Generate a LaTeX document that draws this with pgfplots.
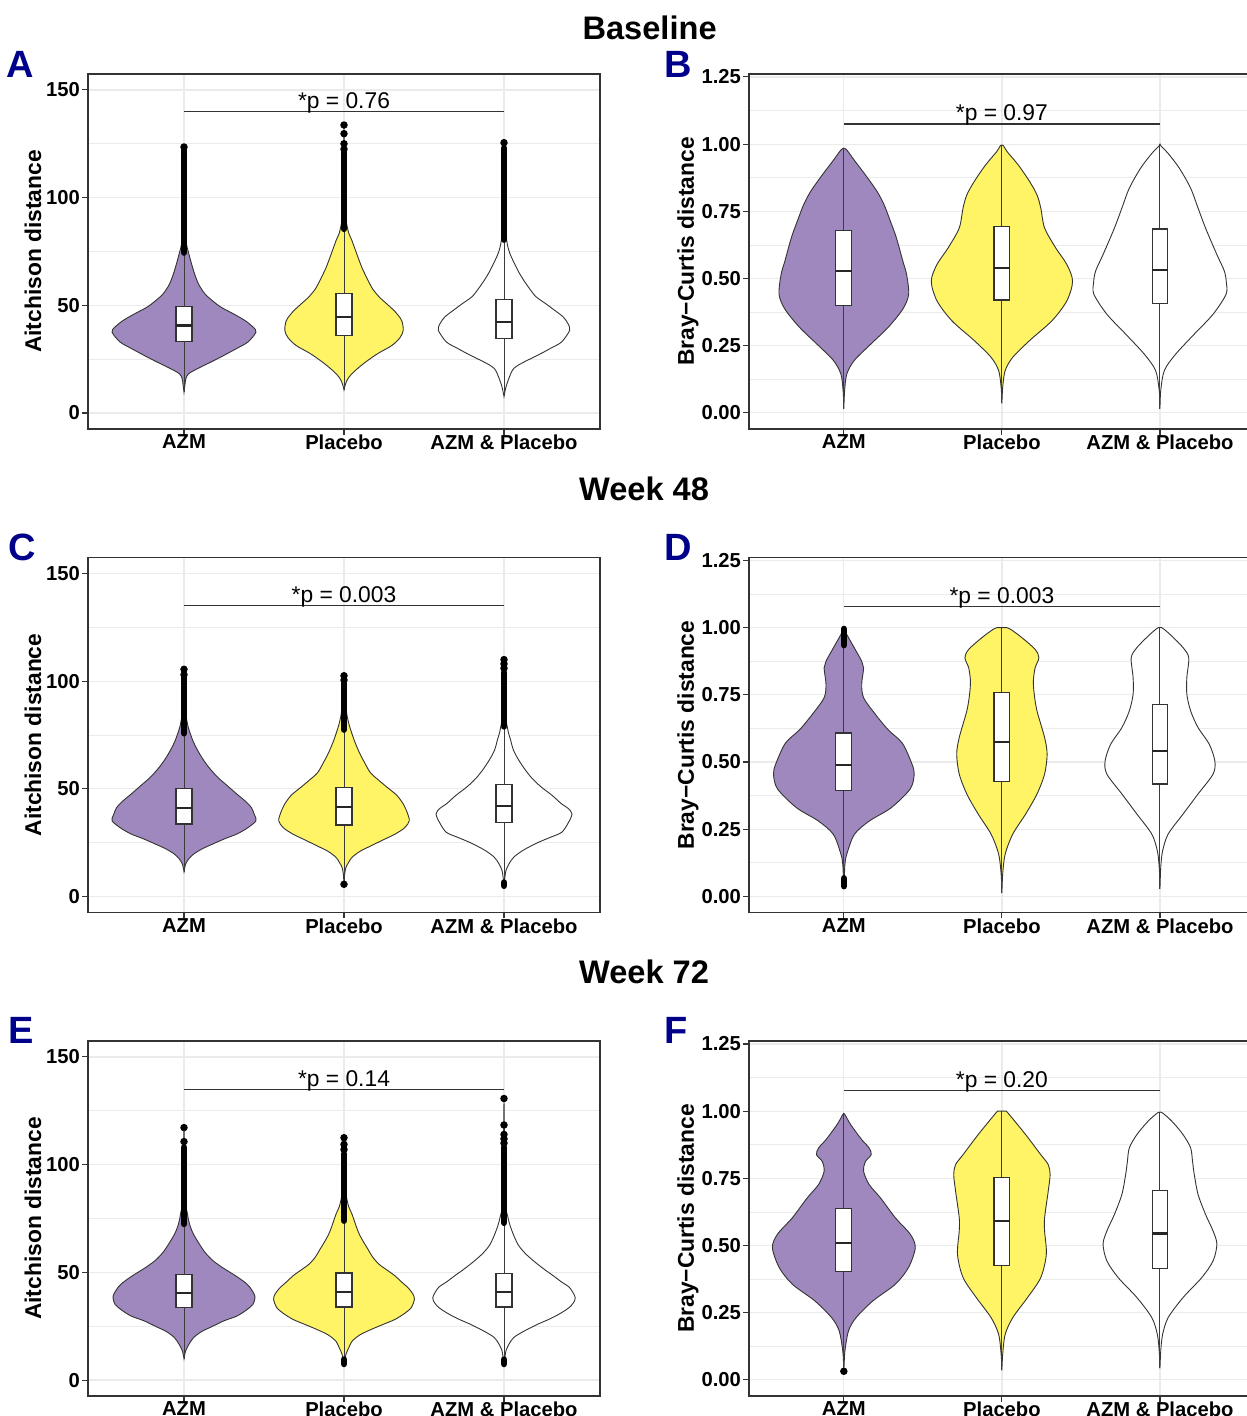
\documentclass[border=0pt]{standalone}
\usepackage{fontspec}
\setmainfont{Liberation Sans}
\usepackage{pgfplots}
\pgfplotsset{compat=1.18}
\usepackage{pgfplotstable}
\usepgfplotslibrary{fillbetween}

\definecolor{vpur}{RGB}{159,136,189}
\definecolor{vyel}{RGB}{255,243,102}
\definecolor{vlc}{RGB}{51,51,51}
\definecolor{gridc}{RGB}{235,235,235}
\definecolor{framec}{RGB}{51,51,51}
\definecolor{whc}{RGB}{60,60,60}
\definecolor{lblue}{RGB}{0,0,139}

% ---------------- Panel A (Baseline, Aitchison)
\pgfplotstableread{
y w
9.8 0
12 0.004
16 0.012
18.3 0.03
20.6 0.084
23 0.15
26 0.23
30 0.33
33 0.40
37.6 0.45
40 0.43
43 0.38
46 0.31
49.2 0.23
52 0.18
55.4 0.13
60 0.09
66 0.06
74 0.03
80 0.012
90 0.005
123.5 0
}\tAa
\pgfplotstableread{
y w
10.8 0
13.6 0.01
16 0.025
18.3 0.05
21 0.09
24.5 0.15
28 0.22
31.4 0.30
35 0.35
38.4 0.37
43 0.36
47 0.32
50.5 0.27
53.9 0.22
57.5 0.18
61.6 0.15
67 0.115
72.4 0.087
80 0.05
84.8 0.025
95 0.008
133 0
}\tAb
\pgfplotstableread{
y w
7.7 0
12 0.012
16 0.03
20.6 0.06
23.5 0.12
26.8 0.21
30 0.29
33 0.36
38.4 0.41
41.5 0.40
44.6 0.37
47.5 0.32
50.8 0.26
54 0.20
57.7 0.16
62 0.12
66.3 0.086
74 0.037
80 0.017
90 0.006
125.5 0
}\tAc
% ---------------- Panel B (Baseline, Bray-Curtis)
\pgfplotstableread{
y w
0.016 0
0.084 0.005
0.145 0.019
0.195 0.066
0.25 0.16
0.318 0.28
0.386 0.373
0.441 0.41
0.515 0.397
0.565 0.373
0.615 0.35
0.663 0.326
0.72 0.29
0.774 0.255
0.824 0.21
0.885 0.137
0.94 0.066
0.978 0.019
0.985 0
}\tBa
\pgfplotstableread{
y w
0.035 0
0.096 0.005
0.158 0.021
0.207 0.069
0.269 0.175
0.343 0.317
0.417 0.411
0.49 0.447
0.552 0.411
0.614 0.34
0.688 0.27
0.762 0.246
0.811 0.222
0.861 0.175
0.922 0.104
0.972 0.033
0.994 0.01
0.997 0
}\tBb
\pgfplotstableread{
y w
0.016 0
0.084 0.005
0.158 0.028
0.219 0.10
0.293 0.217
0.367 0.336
0.441 0.418
0.485 0.42
0.528 0.407
0.589 0.36
0.688 0.288
0.762 0.241
0.836 0.194
0.91 0.123
0.965 0.052
0.994 0.005
1.0 0
}\tBc
% ---------------- Panel C (Week 48, Aitchison)
\pgfplotstableread{
y w
11.6 0
15 0.01
17.5 0.03
19.7 0.06
22 0.11
24.4 0.18
27 0.26
29 0.33
32 0.40
35.2 0.45
38 0.44
41.4 0.42
44.5 0.38
47.6 0.33
51.5 0.27
55.4 0.21
60 0.155
64.7 0.11
70 0.07
74 0.047
80 0.022
88 0.008
105.5 0
}\tCa
\pgfplotstableread{
y w
5.7 0
10.4 0.004
13.5 0.012
16 0.03
18.2 0.05
21 0.10
23.6 0.17
26.5 0.25
29 0.32
32 0.38
35.2 0.408
39 0.395
43 0.37
47 0.33
50.7 0.27
53.8 0.22
57.5 0.165
62 0.13
66.2 0.10
71 0.072
75.5 0.05
81.8 0.025
90 0.008
102.5 0
}\tCb
\pgfplotstableread{
y w
5.0 0
8 0.004
12 0.012
15 0.03
18.2 0.06
21.5 0.12
25 0.21
27.5 0.29
29.8 0.36
34 0.40
38.3 0.425
41 0.40
43 0.36
47 0.30
50.7 0.235
54.5 0.18
58.5 0.136
63 0.095
67.8 0.06
73 0.04
77 0.025
85 0.01
110 0
}\tCc
% ---------------- Panel D (Week 48, Bray-Curtis)
\pgfplotstableread{
y w
0.035 0
0.07 0.003
0.121 0.007
0.158 0.019
0.23 0.066
0.28 0.16
0.33 0.30
0.40 0.42
0.455 0.445
0.494 0.43
0.57 0.37
0.62 0.28
0.68 0.196
0.739 0.125
0.789 0.113
0.85 0.125
0.875 0.113
0.925 0.066
0.974 0.019
1.0 0
}\tDa
\pgfplotstableread{
y w
0.012 0
0.084 0.005
0.158 0.021
0.232 0.069
0.307 0.151
0.381 0.222
0.455 0.27
0.529 0.286
0.591 0.27
0.69 0.222
0.75 0.205
0.801 0.199
0.85 0.21
0.888 0.234
0.919 0.21
0.962 0.128
0.993 0.057
1.0 0.03
}\tDb
\pgfplotstableread{
y w
0.028 0
0.11 0.005
0.17 0.017
0.232 0.052
0.307 0.147
0.381 0.241
0.455 0.336
0.504 0.347
0.566 0.312
0.628 0.241
0.69 0.194
0.752 0.17
0.814 0.17
0.888 0.182
0.925 0.147
0.968 0.076
0.993 0.028
1.0 0.01
}\tDc
% ---------------- Panel E (Week 72, Aitchison)
\pgfplotstableread{
y w
10 0
13.5 0.01
16.5 0.03
19.7 0.06
22.5 0.11
25 0.18
27.5 0.25
29.7 0.33
32.5 0.39
35.1 0.43
39 0.443
43.7 0.405
46.5 0.36
49 0.31
52 0.245
55.3 0.183
58.5 0.14
61.5 0.11
67.6 0.06
72.3 0.035
77 0.022
85 0.008
117.2 0
}\tEa
\pgfplotstableread{
y w
7.3 0
11.9 0.012
15 0.03
18 0.05
21 0.10
23.5 0.17
26 0.25
28.2 0.32
31 0.38
33.6 0.42
37.5 0.44
40 0.43
42.9 0.40
45.5 0.36
48.3 0.32
51 0.27
53.7 0.22
57 0.18
60.7 0.15
65 0.115
69.2 0.087
77 0.05
81.6 0.025
90 0.008
112.5 0
}\tEb
\pgfplotstableread{
y w
7.3 0
10 0.005
13.5 0.012
16.5 0.03
19.7 0.06
22.5 0.12
25.9 0.21
28.5 0.29
31.3 0.36
34.5 0.42
38.2 0.445
42.9 0.41
45.5 0.36
48.3 0.31
51.5 0.25
55.3 0.185
59 0.13
63 0.087
69.2 0.05
75.4 0.025
85 0.008
130.7 0
}\tEc
% ---------------- Panel F (Week 72, Bray-Curtis)
\pgfplotstableread{
y w
0.032 0
0.06 0.002
0.109 0.007
0.183 0.03
0.232 0.078
0.294 0.184
0.356 0.326
0.418 0.409
0.492 0.452
0.542 0.42
0.603 0.326
0.677 0.232
0.727 0.16
0.776 0.125
0.813 0.137
0.838 0.173
0.863 0.16
0.894 0.113
0.95 0.043
0.987 0.007
0.992 0
}\tFa
\pgfplotstableread{
y w
0.035 0
0.096 0.005
0.17 0.021
0.232 0.069
0.307 0.163
0.381 0.246
0.467 0.281
0.554 0.27
0.603 0.27
0.702 0.293
0.764 0.305
0.801 0.293
0.838 0.246
0.912 0.151
0.98 0.057
1.0 0.028
}\tFb
\pgfplotstableread{
y w
0.043 0
0.109 0.005
0.17 0.017
0.232 0.052
0.307 0.147
0.381 0.265
0.443 0.336
0.505 0.36
0.554 0.336
0.616 0.288
0.69 0.241
0.764 0.217
0.813 0.206
0.863 0.194
0.912 0.147
0.962 0.076
0.993 0.017
0.996 0
}\tFc

% violin: #1 centre, #2 table, #3 fill
\newcommand{\viol}[3]{%
  \addplot[draw=none, smooth, tension=0.5, name path=vr#1] table[x expr=#1+\thisrow{w}, y=y]{#2};
  \addplot[draw=none, smooth, tension=0.5, name path=vl#1] table[x expr=#1-\thisrow{w}, y=y]{#2};
  \addplot[fill=#3, draw=vlc, line width=0.45pt] fill between[of=vr#1 and vl#1, reverse=true];
}
% box: #1 left #2 centre #3 right #4 q1 #5 median #6 q3 #7 low whisker #8 high whisker
\newcommand{\vbx}[8]{%
  \addplot[whc, line width=0.5pt] coordinates {(#2,#7) (#2,#8)};
  \addplot[fill=white, draw=vlc, line width=0.55pt] coordinates {(#1,#4) (#3,#4) (#3,#6) (#1,#6)} -- cycle;
  \addplot[black!85, line width=1.1pt] coordinates {(#1,#5) (#3,#5)};
}
% dense run of outliers
\newcommand{\od}[3]{\addplot[black, line width=3.3pt, line cap=round] coordinates {(#1,#2) (#1,#3)};}
% single outliers
\newcommand{\om}[1]{\addplot[only marks, mark=*, mark size=1.65pt, black] coordinates {#1};}
% significance bar
\newcommand{\sig}[2]{%
  \addplot[vlc, line width=0.55pt] coordinates {(1,#1) (3,#1)};
  \node[anchor=base, inner sep=0pt, yshift=1.5pt, font=\fontsize{11.4}{13}\selectfont] at (axis cs:2,#1) {#2};
}

\pgfplotsset{
  basev/.style={
    scale only axis, height=177.5pt,
    xmin=0.4, xmax=3.6,
    xtick={1,2,3}, xticklabels={AZM,Placebo,AZM \& Placebo},
    tick pos=left, tick align=outside,
    major tick length=3pt, minor tick length=0pt,
    tick style={color=framec, line width=0.55pt},
    axis line style={color=framec, line width=0.6pt},
    xmajorgrids, ymajorgrids, yminorgrids,
    major grid style={color=gridc, line width=0.6pt},
    minor grid style={color=gridc, line width=0.35pt},
    /pgf/number format/assume math mode=true,
    ticklabel style={font=\fontsize{10.1}{11}\selectfont\bfseries, text=black},
    xticklabel style={yshift=3.5pt},
    yticklabel style={xshift=2.5pt},
    ylabel style={font=\fontsize{11.4}{13}\selectfont\bfseries, anchor=center},
    set layers,
  },
  ait/.style={basev, width=256pt,
    ymin=-7.4, ymax=157.4,
    ytick={0,50,100,150}, minor ytick={25,75,125},
    ylabel={Aitchison distance},
    ylabel style={at={(rel axis cs:-0.1074,0.5)}},
  },
  bc/.style={basev, width=252.9pt,
    ymin=-0.06, ymax=1.261,
    ytick={0,0.25,0.5,0.75,1,1.25},
    yticklabels={0.00,0.25,0.50,0.75,1.00,1.25},
    minor ytick={0.125,0.375,0.625,0.875,1.125},
    ylabel={Bray−Curtis distance},
    ylabel style={at={(rel axis cs:-0.1206,0.5)}},
  },
}

\begin{document}
\begin{tikzpicture}
% ---------- titles and panel letters
\node[anchor=base, inner sep=0pt, font=\fontsize{16.3}{18}\selectfont\bfseries] at (324.8pt,688pt) {Baseline};
\node[anchor=base, inner sep=0pt, font=\fontsize{16.3}{18}\selectfont\bfseries] at (322pt,457.6pt) {Week 48};
\node[anchor=base, inner sep=0pt, font=\fontsize{16.3}{18}\selectfont\bfseries] at (322pt,216pt) {Week 72};
\foreach \L/\X/\Y in {A/3pt/669pt, B/332pt/669pt, C/4pt/427.7pt, D/332pt/427.7pt, E/4pt/186.4pt, F/332pt/186.4pt}{
  \node[anchor=base west, inner sep=0pt, text=lblue, font=\fontsize{19}{21}\selectfont\bfseries] at (\X,\Y) {\L};
}

% ---------- A
\begin{axis}[ait, at={(44pt,493.5pt)}, anchor=south west]
\viol{1}{\tAa}{vpur}
\viol{2}{\tAb}{vyel}
\viol{3}{\tAc}{white}
\vbx{0.95}{1}{1.05}{33.3}{40.6}{49.5}{9.8}{73.8}
\vbx{1.95}{2}{2.05}{35.9}{44.6}{55.4}{10.8}{84.6}
\vbx{2.95}{3}{3.05}{34.4}{42.3}{52.6}{7.7}{79.9}
\od{1}{74.5}{122}
\om{(1,123.5)}
\od{2}{85.5}{121}
\om{(2,122.5) (2,125) (2,129.7) (2,133.7)}
\od{3}{80.5}{123}
\om{(3,125.5)}
\sig{140}{*p = 0.76}
\end{axis}

% ---------- B
\begin{axis}[bc, at={(374.5pt,493.5pt)}, anchor=south west]
\viol{1}{\tBa}{vpur}
\viol{2}{\tBb}{vyel}
\viol{3}{\tBc}{white}
\vbx{0.95}{1}{1.05}{0.401}{0.528}{0.678}{0.016}{0.985}
\vbx{1.95}{2}{2.05}{0.42}{0.538}{0.692}{0.035}{0.997}
\vbx{2.95}{3}{3.05}{0.408}{0.531}{0.684}{0.016}{1.0}
\sig{1.075}{*p = 0.97}
\end{axis}

% ---------- C
\begin{axis}[ait, at={(44pt,251.75pt)}, anchor=south west]
\viol{1}{\tCa}{vpur}
\viol{2}{\tCb}{vyel}
\viol{3}{\tCc}{white}
\vbx{0.95}{1}{1.05}{33.7}{41}{50.3}{11.6}{75.2}
\vbx{1.95}{2}{2.05}{33.2}{41.4}{50.7}{7.0}{76.9}
\vbx{2.95}{3}{3.05}{34.4}{42}{52}{8.0}{78.4}
\od{1}{75.8}{101.5}
\om{(1,103) (1,105.5)}
\od{2}{77.5}{99}
\om{(2,100.5) (2,102.5) (2,5.7)}
\od{3}{79}{104}
\om{(3,106) (3,108) (3,110)}
\od{3}{5.0}{6.5}
\sig{135}{*p = 0.003}
\end{axis}

% ---------- D
\begin{axis}[bc, at={(374.5pt,251.75pt)}, anchor=south west]
\viol{1}{\tDa}{vpur}
\viol{2}{\tDb}{vyel}
\viol{3}{\tDc}{white}
\vbx{0.95}{1}{1.05}{0.393}{0.488}{0.608}{0.07}{0.93}
\vbx{1.95}{2}{2.05}{0.427}{0.574}{0.76}{0.012}{1.0}
\vbx{2.95}{3}{3.05}{0.418}{0.542}{0.715}{0.028}{1.0}
\od{1}{0.935}{0.995}
\od{1}{0.038}{0.067}
\sig{1.077}{*p = 0.003}
\end{axis}

% ---------- E
\begin{axis}[ait, at={(44pt,10pt)}, anchor=south west]
\viol{1}{\tEa}{vpur}
\viol{2}{\tEb}{vyel}
\viol{3}{\tEc}{white}
\vbx{0.95}{1}{1.05}{33.6}{40.6}{48.8}{10}{71.6}
\vbx{1.95}{2}{2.05}{33.9}{40.9}{49.7}{10.2}{73.4}
\vbx{2.95}{3}{3.05}{33.9}{40.9}{49.4}{10.65}{72.65}
\od{1}{72.5}{108}
\om{(1,110.7) (1,117.2)}
\od{2}{74}{105}
\om{(2,107) (2,109.4) (2,112.5)}
\od{2}{7.5}{9.5}
\od{3}{73}{108}
\om{(3,110) (3,112) (3,114) (3,118.4) (3,130.7)}
\od{3}{7.5}{9.5}
\sig{134.8}{*p = 0.14}
\end{axis}

% ---------- F
\begin{axis}[bc, at={(374.5pt,10pt)}, anchor=south west]
\viol{1}{\tFa}{vpur}
\viol{2}{\tFb}{vyel}
\viol{3}{\tFc}{white}
\vbx{0.95}{1}{1.05}{0.402}{0.508}{0.639}{0.047}{0.992}
\vbx{1.95}{2}{2.05}{0.427}{0.59}{0.752}{0.035}{1.0}
\vbx{2.95}{3}{3.05}{0.414}{0.545}{0.706}{0.043}{0.996}
\om{(1,0.032)}
\sig{1.078}{*p = 0.20}
\end{axis}

\pgfresetboundingbox
\path[use as bounding box] (0pt,0pt) rectangle (623pt,708pt);
\end{tikzpicture}
\end{document}
